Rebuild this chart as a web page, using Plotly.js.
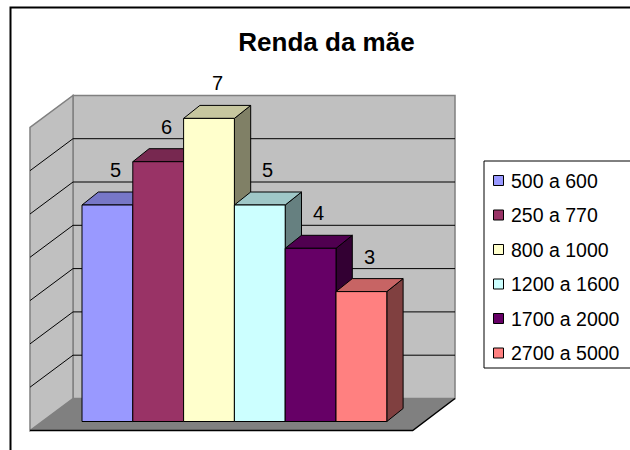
<!DOCTYPE html>
<html>
<head>
<meta charset="utf-8">
<script src="https://cdn.plot.ly/plotly-3.0.1.min.js"></script>
<style>html,body{margin:0;padding:0;background:#fff}#chart{width:630px;height:450px}</style>
</head>
<body>
<div id="chart"></div>
<script>
// ---- data ----
const categories = ['500 a 600', '250 a 770', '800 a 1000', '1200 a 1600', '1700 a 2000', '2700 a 5000'];
const values = [5, 6, 7, 5, 4, 3];
const axisMax = 7;
const gridValues = [1, 2, 3, 4, 5, 6];
const chartTitle = 'Renda da mãe';

// ---- styles ----
const frontColors = ['#9999FF', '#993366', '#FFFFCC', '#CCFFFF', '#660066', '#FF8080'];
const FONT = 'Liberation Sans, Arial, sans-serif';

function shade(hex, f) {
  const n = parseInt(hex.slice(1), 16);
  const r = Math.round(((n >> 16) & 255) * f), g = Math.round(((n >> 8) & 255) * f), b = Math.round((n & 255) * f);
  return 'rgb(' + r + ',' + g + ',' + b + ')';
}

// ---- layout geometry (pixels) ----
const W = 630, H = 450;
const PL = 20, PR = 470, PT = 70, PB = 440;     // plot area
const U = 50.8, V = 43.3;                        // px per x unit / y unit
const X0 = 82, Y0 = 421.5;                       // left of first bar front, value 0 on front plane
const dataX = px => (px - X0) / U - 0.5;
const dataY = py => (Y0 - py) / V;
const paperX = px => (px - PL) / (PR - PL);
const paperY = py => (PB - py) / (PB - PT);

const bdx = 16.3 / U, bdy = 13 / V;              // bar depth
const wallL = dataX(73), wallR = dataX(455), wallB = dataY(398.5);
const sideL = dataX(30), sideDy = 32 / V;
const floorFR = dataX(412.7);

// ---- traces (bar faces) ----
const traces = [];
function poly(pts, fill) {
  const xs = pts.map(p => p[0]).concat([pts[0][0]]);
  const ys = pts.map(p => p[1]).concat([pts[0][1]]);
  return {type: 'scatter', mode: 'lines', x: xs, y: ys, fill: 'toself', fillcolor: fill,
          line: {color: '#000', width: 1}, hoverinfo: 'skip', showlegend: false};
}
values.forEach((v, i) => {
  const a = i - 0.5, b = i + 0.5;
  traces.push(poly([[b, 0], [b + bdx, bdy], [b + bdx, v + bdy], [b, v]], shade(frontColors[i], 0.5)));
  traces.push(poly([[a, v], [b, v], [b + bdx, v + bdy], [a + bdx, v + bdy]], shade(frontColors[i], 0.78)));
});
values.forEach((v, i) => {
  const a = i - 0.5, b = i + 0.5;
  traces.push(poly([[a, 0], [b, 0], [b, v], [a, v]], frontColors[i]));
});

// ---- shapes: walls, floor, gridlines ----
const shapes = [];
const P = (x, y) => x + ',' + y;
shapes.push({type: 'rect', xref: 'x', yref: 'y', x0: wallL, x1: wallR, y0: wallB, y1: wallB + axisMax,
  fillcolor: '#C0C0C0', line: {color: '#808080', width: 1.5}, layer: 'below'});
shapes.push({type: 'path', xref: 'x', yref: 'y', layer: 'below', fillcolor: '#C0C0C0',
  line: {color: '#808080', width: 1.5},
  path: 'M' + P(sideL, wallB - sideDy) + 'L' + P(sideL, wallB + axisMax - sideDy) + 'L' + P(wallL, wallB + axisMax) + 'L' + P(wallL, wallB) + 'Z'});
shapes.push({type: 'path', xref: 'x', yref: 'y', layer: 'below', fillcolor: '#808080',
  line: {width: 0},
  path: 'M' + P(sideL, wallB - sideDy) + 'L' + P(floorFR, wallB - sideDy) + 'L' + P(wallR, wallB) + 'L' + P(wallL, wallB) + 'Z'});
shapes.push({type: 'path', xref: 'x', yref: 'y', layer: 'below', line: {color: '#000', width: 1.5},
  path: 'M' + P(sideL, wallB - sideDy) + 'L' + P(floorFR, wallB - sideDy) + 'L' + P(wallR, wallB)});
gridValues.forEach(k => {
  shapes.push({type: 'line', xref: 'x', yref: 'y', layer: 'below', line: {color: '#000', width: 1},
    x0: wallL, x1: wallR, y0: wallB + k, y1: wallB + k});
  shapes.push({type: 'line', xref: 'x', yref: 'y', layer: 'below', line: {color: '#000', width: 1},
    x0: wallL, x1: sideL, y0: wallB + k, y1: wallB + k - sideDy});
});

// outer chart border
shapes.push({type: 'rect', xref: 'paper', yref: 'paper', x0: paperX(10.5), x1: paperX(645), y0: paperY(7.5), y1: paperY(465),
  line: {color: '#000', width: 2}, fillcolor: 'rgba(0,0,0,0)', layer: 'above'});

// legend box + markers
const legTop = 161, legBottom = 368, legLeft = 484, rowY0 = 180.5, rowStep = 34.5;
shapes.push({type: 'rect', xref: 'paper', yref: 'paper', x0: paperX(legLeft), x1: paperX(650), y0: paperY(legTop), y1: paperY(legBottom),
  line: {color: '#000', width: 1}, fillcolor: '#fff', layer: 'above'});
const annotations = [];
categories.forEach((c, i) => {
  const cy = rowY0 + i * rowStep;
  shapes.push({type: 'rect', xref: 'paper', yref: 'paper', x0: paperX(493.5), x1: paperX(503.5), y0: paperY(cy - 5), y1: paperY(cy + 5),
    fillcolor: frontColors[i], line: {color: '#000', width: 1}, layer: 'above'});
  annotations.push({xref: 'paper', yref: 'paper', x: paperX(509), y: paperY(cy), xanchor: 'left', yanchor: 'middle',
    text: c, showarrow: false, font: {family: FONT, size: 19.5, color: '#000'}});
});

// data labels
values.forEach((v, i) => {
  annotations.push({xref: 'x', yref: 'y', x: i + bdx / 2, y: v + bdy, xanchor: 'center', yanchor: 'middle', yshift: 22,
    text: String(v), showarrow: false, font: {family: FONT, size: 20, color: '#000'}});
});

const layout = {
  width: W, height: H,
  margin: {l: PL, r: W - PR, t: PT, b: H - PB, autoexpand: false},
  paper_bgcolor: '#fff', plot_bgcolor: 'rgba(0,0,0,0)',
  showlegend: false,
  title: {text: chartTitle, x: 326.5 / W, xanchor: 'center', xref: 'container', y: 1 - 42 / H, yanchor: 'middle', yref: 'container',
    font: {family: FONT, size: 26, color: '#000', weight: 'bold'}},
  xaxis: {range: [dataX(PL), dataX(PR)], visible: false, fixedrange: true},
  yaxis: {range: [dataY(PB), dataY(PT)], visible: false, fixedrange: true},
  shapes: shapes,
  annotations: annotations
};

Plotly.newPlot('chart', traces, layout, {displayModeBar: false, staticPlot: true});
</script>
</body>
</html>
